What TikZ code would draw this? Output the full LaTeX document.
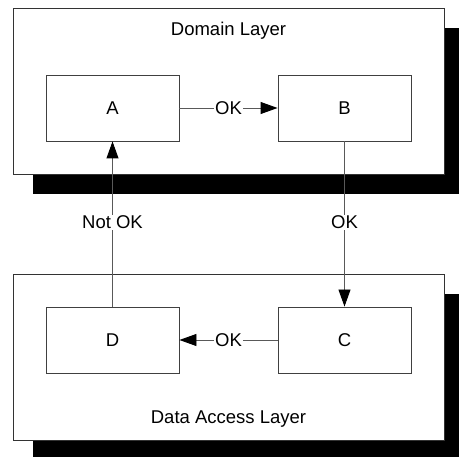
\documentclass[tikz,border=0pt]{standalone}
\usepackage{fontspec}
\setmainfont{Liberation Sans}
\usetikzlibrary{arrows.meta, positioning, shadows}

\tikzset{
  layer/.style={draw=black!80, line width=0.9pt, fill=white, rectangle, minimum width=431pt, minimum height=166pt,
    drop shadow={shadow xshift=20pt, shadow yshift=-20pt, fill=black, opacity=1}},
  unit/.style={draw=black!75, line width=0.9pt, fill=white, rectangle, minimum width=133pt, minimum height=66pt, font=\fontsize{18.5}{22}\selectfont},
  flow/.style={draw=black!65, line width=0.9pt, -{Triangle[length=17pt, width=12pt, color=black]}},
  lbl/.style={fill=white, inner sep=1pt, font=\fontsize{18.5}{22}\selectfont}
}

\begin{document}
\begin{tikzpicture}[x=1pt, y=-1pt]
  \useasboundingbox (0,0) rectangle (459,457);
  % layers
  \node[layer] (domain) at (228.5,91) {};
  \node[layer] (data) at (228.5,357) {};
  \node[font=\fontsize{18.5}{22}\selectfont, below=11pt of domain.north, anchor=north] {Domain Layer};
  \node[font=\fontsize{18.5}{22}\selectfont, above=10pt of data.south, anchor=south] {Data Access Layer};
  % units
  \node[unit] (a) at (112.5,108) {A};
  \node[unit] (b) at (344.5,108) {B};
  \node[unit] (d) at (112.5,340) {D};
  \node[unit] (c) at (344.5,340) {C};
  % connectors
  \draw[flow] (a) -- node[lbl] {OK} (b);
  \draw[flow] (b) -- node[lbl, pos=0.49] {OK} (c);
  \draw[flow] (c) -- node[lbl] {OK} (d);
  \draw[flow] (d) -- node[lbl, pos=0.51] {Not OK} (a);
\end{tikzpicture}
\end{document}
